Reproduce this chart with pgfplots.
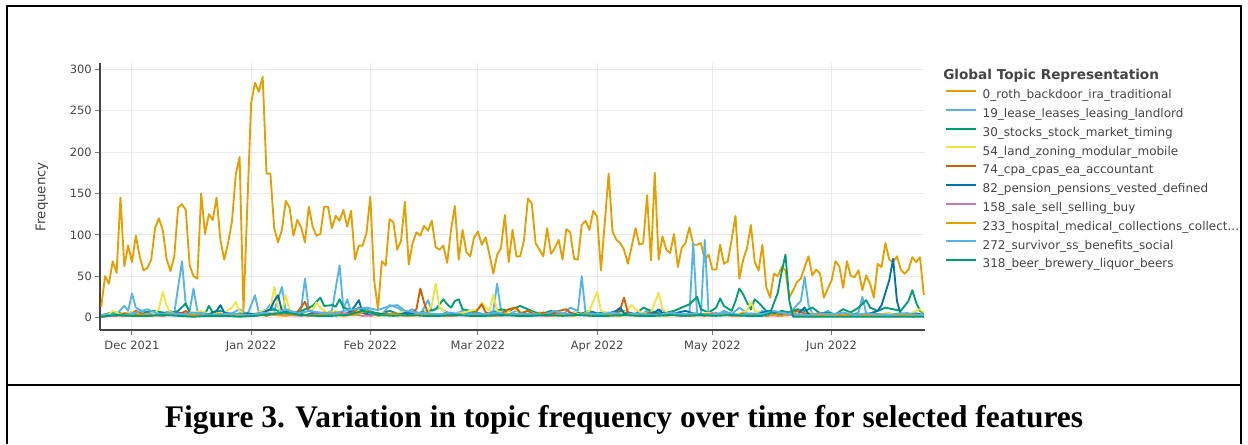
\documentclass[border=0pt]{standalone}
\usepackage{pgfplots}
\pgfplotsset{compat=1.18}
\usepackage{fontspec}
\setmainfont{DejaVu Sans}
\newfontfamily\capfont{Liberation Serif}
\definecolor{c0}{HTML}{E69F00}
\definecolor{c1}{HTML}{56B4E9}
\definecolor{c2}{HTML}{009E73}
\definecolor{c3}{HTML}{F0E442}
\definecolor{c4}{HTML}{D55E00}
\definecolor{c5}{HTML}{0072B2}
\definecolor{c6}{HTML}{CC79A7}
\definecolor{txt}{HTML}{444444}
\definecolor{gridc}{HTML}{EBEBEB}
\begin{document}
\begin{tikzpicture}[x=1pt,y=1pt]
\path[use as bounding box] (0,0) rectangle (936,333);
\begin{axis}[
  at={(75pt,85.5pt)}, anchor=south west,
  width=618.75pt, height=200.5pt, scale only axis,
  xmin=-8.32, xmax=206.3, ymin=-15.1, ymax=308.2,
  axis x line*=bottom, axis y line*=left,
  axis line style={color=txt, line width=1.1pt},
  xtick={0,31,62,90,121,151,182},
  xticklabels={Dec 2021,Jan 2022,Feb 2022,Mar 2022,Apr 2022,May 2022,Jun 2022},
  ytick={0,50,100,150,200,250,300},
  tick align=outside, major tick length=3.75pt,
  tick style={color=txt!70, line width=0.75pt},
  grid=major, major grid style={color=gridc, line width=0.75pt},
  /pgf/number format/assume math mode=true,
  ticklabel style={font=\fontsize{8.6}{10}\selectfont, text=txt},
  xticklabel style={inner sep=0pt, yshift=-4pt},
  yticklabel style={inner sep=0pt, xshift=-2.2pt},
  ylabel={Frequency},
  every axis y label/.style={at={(rel axis cs:-0.0703,0.499)}, rotate=90, anchor=center, font=\fontsize{10}{12}\selectfont, text=txt},
  clip=true,
  every axis plot/.append style={line width=1.4pt, line join=round},
  legend cell align=left,
  legend image code/.code={\draw[#1,line width=1.5pt] (0pt,3.3pt) -- (22.5pt,3.3pt);},
  legend style={at={(rel axis cs:1.0242,0.900)}, anchor=north west, draw=none, fill=none,
    inner sep=0pt, outer sep=0pt, row sep=5.1pt, column sep=4.3pt,
    font=\fontsize{9.0}{11}\selectfont, text=txt,
    nodes={inner sep=0pt, outer sep=0pt, text height=7pt, text depth=2pt}},
]
% 0_roth_backdoor_ira_traditional
\addplot[c0] coordinates {
(-8,13)(-7,50)(-6,41)(-5,68)(-4,54)(-3,145)(-2,62)(-1,87)(0,67)(1,99)(2,74)(3,57)(4,60)(5,70)(6,108)(7,120)(8,106)(9,71)(10,56)(11,74)(12,133)(13,137)(14,130)(15,63)(16,50)(17,47)(18,150)(19,101)(20,125)(21,118)(22,145)(23,94)(24,70)(25,90)(26,116)(27,173)(28,194)(29,8)(30,134)(31,259)(32,284)(33,273)(34,291)(35,174)(36,174)(37,108)(38,91)(39,106)(40,141)(41,133)(42,99)(43,118)(44,109)(45,91)(46,134)(47,110)(48,99)(49,101)(50,134)(51,134)(52,108)(53,123)(54,117)(55,130)(56,110)(57,129)(58,70)(59,87)(60,87)(61,102)(62,146)(63,45)(64,10)(65,68)(66,63)(67,119)(68,115)(69,82)(70,93)(71,140)(72,64)(73,90)(74,103)(75,99)(76,111)(77,105)(78,117)(79,85)(80,82)(81,87)(82,66)(83,106)(84,135)(85,70)(86,106)(87,79)(88,74)(89,97)(90,104)(91,88)(92,97)(93,76)(94,53)(95,76)(96,84)(97,124)(98,67)(99,106)(100,74)(101,74)(102,94)(103,144)(104,138)(105,90)(106,82)(107,74)(108,108)(109,77)(110,84)(111,94)(112,70)(113,107)(114,103)(115,71)(116,70)(117,112)(118,117)(119,106)(120,129)(121,122)(122,57)(123,115)(124,174)(125,104)(126,94)(127,90)(128,82)(129,65)(130,86)(131,108)(132,88)(133,90)(134,148)(135,69)(136,175)(137,70)(138,98)(139,82)(140,78)(141,101)(142,61)(143,84)(144,90)(145,109)(146,88)(147,88)(148,90)(149,70)(150,76)(151,58)(152,58)(153,88)(154,65)(155,68)(156,94)(157,123)(158,47)(159,70)(160,84)(161,112)(162,67)(163,57)(164,88)(165,37)(166,24)(167,53)(168,50)(169,61)(170,57)(171,24)(172,33)(173,43)(174,47)(175,61)(176,74)(177,51)(178,58)(179,53)(180,24)(181,35)(182,45)(183,68)(184,62)(185,36)(186,68)(187,50)(188,49)(189,57)(190,33)(191,51)(192,41)(193,24)(194,65)(195,61)(196,90)(197,70)(198,67)(199,74)(200,58)(201,53)(202,58)(203,73)(204,67)(205,73)(206,27)
};
\addlegendentry{0\_roth\_backdoor\_ira\_traditional}
% 19_lease_leases_leasing_landlord
\addplot[c1] coordinates {
(-8,3)(-6,5)(-4,4)(-2,14)(-1,8)(0,29)(1,12)(2,9)(4,6)(6,3)(8,5)(10,8)(11,5)(13,68)(14,15)(15,8)(16,35)(17,8)(18,3)(20,4)(22,6)(24,3)(26,5)(28,10)(30,3)(32,27)(33,6)(35,10)(36,16)(37,8)(39,37)(40,8)(42,5)(44,10)(45,47)(46,10)(48,5)(50,4)(52,8)(54,63)(55,10)(56,22)(57,6)(59,12)(61,10)(63,6)(65,3)(67,15)(69,12)(71,6)(73,10)(75,3)(77,21)(78,8)(80,12)(82,6)(84,4)(86,8)(88,5)(90,6)(92,3)(94,8)(95,41)(96,8)(98,4)(100,8)(102,5)(104,3)(106,6)(108,4)(110,7)(112,3)(114,12)(116,8)(117,50)(118,5)(120,3)(122,4)(124,6)(126,3)(128,8)(130,5)(132,3)(134,8)(136,4)(138,10)(139,5)(141,3)(143,4)(145,3)(146,90)(147,5)(148,3)(149,94)(150,5)(152,3)(154,8)(156,4)(158,12)(160,5)(162,3)(164,8)(166,4)(168,6)(170,3)(172,10)(174,20)(175,49)(176,15)(177,5)(179,3)(181,8)(183,2)(185,4)(187,3)(189,6)(190,25)(191,5)(193,3)(195,4)(197,5)(199,3)(201,6)(203,4)(205,3)(206,2)
};
\addlegendentry{19\_lease\_leases\_leasing\_landlord}
% 30_stocks_stock_market_timing
\addplot[c2] coordinates {
(-8,2)(-6,5)(-4,6)(-2,4)(0,5)(2,3)(4,7)(6,8)(8,6)(10,5)(12,8)(14,17)(15,6)(17,5)(19,4)(20,14)(21,6)(23,8)(25,5)(27,4)(29,6)(31,3)(33,5)(35,8)(37,10)(39,6)(41,8)(43,5)(45,10)(47,14)(49,24)(50,14)(52,15)(53,13)(54,22)(55,12)(57,9)(59,10)(61,8)(63,6)(65,5)(67,8)(69,5)(71,7)(73,4)(75,6)(77,8)(79,10)(81,22)(82,16)(83,12)(84,20)(85,22)(86,10)(88,8)(90,5)(92,3)(94,6)(96,10)(98,8)(100,12)(101,14)(103,10)(105,6)(107,5)(109,8)(111,5)(113,4)(115,6)(117,5)(119,8)(121,5)(123,6)(125,4)(127,8)(129,6)(131,4)(133,12)(135,8)(137,5)(139,6)(141,8)(143,12)(145,16)(147,25)(148,10)(150,6)(152,12)(153,23)(154,14)(156,8)(157,20)(158,35)(159,28)(160,18)(161,10)(162,22)(163,18)(165,8)(167,5)(169,8)(171,6)(173,10)(175,8)(177,12)(179,5)(181,6)(183,4)(185,10)(187,6)(189,12)(191,21)(192,12)(194,8)(196,12)(198,10)(200,8)(202,20)(203,33)(204,18)(205,8)(206,5)
};
\addlegendentry{30\_stocks\_stock\_market\_timing}
% 54_land_zoning_modular_mobile
\addplot[c3] coordinates {
(-8,2)(-6,4)(-5,8)(-3,4)(-1,6)(1,8)(3,4)(5,3)(7,10)(8,31)(9,15)(10,6)(12,4)(14,6)(16,5)(18,8)(20,4)(22,5)(24,6)(26,12)(27,19)(28,8)(30,3)(32,5)(34,8)(36,10)(37,37)(38,12)(39,6)(40,27)(41,8)(43,4)(45,6)(47,10)(48,18)(49,12)(51,5)(53,8)(55,4)(57,6)(59,8)(61,4)(63,3)(65,6)(67,4)(69,5)(71,8)(73,6)(75,4)(77,8)(78,15)(79,41)(80,12)(82,5)(84,4)(86,6)(88,8)(90,10)(91,18)(92,12)(93,8)(94,28)(95,8)(97,5)(99,12)(101,6)(103,8)(105,4)(107,6)(109,3)(111,5)(113,4)(115,6)(117,3)(119,8)(121,31)(122,8)(124,5)(126,4)(128,6)(130,15)(131,10)(133,5)(135,6)(137,30)(138,10)(140,4)(142,6)(144,3)(146,5)(148,4)(150,6)(152,4)(154,5)(156,3)(158,5)(160,8)(161,19)(162,8)(164,5)(166,3)(168,4)(170,3)(172,5)(174,3)(176,6)(178,4)(180,3)(182,4)(184,3)(186,5)(188,4)(190,3)(192,4)(194,3)(196,5)(198,4)(200,6)(202,4)(204,8)(205,10)(206,6)
};
\addlegendentry{54\_land\_zoning\_modular\_mobile}
% 74_cpa_cpas_ea_accountant
\addplot[c4] coordinates {
(-8,1)(-6,3)(-4,2)(-2,5)(0,4)(1,8)(2,6)(4,2)(6,3)(8,2)(10,4)(12,3)(14,8)(15,4)(17,2)(19,3)(21,2)(23,4)(25,3)(27,2)(29,5)(31,3)(33,4)(35,2)(37,5)(39,3)(41,4)(43,6)(45,19)(46,8)(48,5)(50,6)(52,3)(54,6)(56,4)(58,8)(59,12)(60,6)(62,2)(64,4)(66,3)(68,5)(70,3)(72,2)(74,10)(75,35)(76,18)(77,5)(79,3)(81,4)(83,2)(85,4)(87,3)(89,4)(91,16)(92,6)(94,3)(96,4)(98,10)(100,12)(101,5)(103,8)(105,3)(107,6)(109,4)(111,8)(113,10)(114,6)(116,3)(118,5)(120,3)(122,2)(124,4)(126,3)(127,10)(128,24)(129,6)(131,3)(133,4)(135,6)(137,3)(139,5)(141,3)(143,2)(145,4)(147,3)(149,2)(151,5)(153,3)(155,4)(157,2)(159,5)(161,3)(163,4)(165,2)(167,3)(169,4)(171,3)(173,8)(175,5)(177,3)(179,6)(181,2)(183,3)(185,2)(187,4)(189,2)(191,3)(193,5)(195,3)(197,2)(199,4)(201,2)(203,3)(205,2)(206,3)
};
\addlegendentry{74\_cpa\_cpas\_ea\_accountant}
% 82_pension_pensions_vested_defined
\addplot[c5] coordinates {
(-8,1)(-6,2)(-4,3)(-2,2)(0,4)(2,3)(4,2)(6,3)(8,5)(10,3)(12,6)(14,4)(16,3)(18,5)(20,4)(22,8)(23,15)(24,6)(26,4)(28,3)(30,5)(32,4)(34,6)(36,10)(37,20)(38,27)(39,8)(41,4)(43,6)(45,3)(47,5)(49,3)(51,4)(53,6)(55,3)(57,8)(58,14)(59,21)(60,6)(62,3)(64,4)(66,5)(68,3)(70,4)(72,6)(74,3)(76,5)(78,4)(80,3)(82,6)(84,4)(86,3)(88,5)(90,4)(92,3)(94,5)(96,3)(98,4)(100,3)(102,5)(104,3)(106,4)(108,2)(110,4)(112,3)(114,5)(116,3)(118,4)(120,6)(122,3)(124,5)(126,8)(127,12)(128,5)(130,3)(132,4)(134,3)(136,6)(137,10)(138,5)(140,3)(142,6)(144,8)(146,5)(148,4)(150,3)(152,5)(154,3)(156,4)(158,2)(160,4)(162,3)(164,6)(166,8)(167,4)(169,3)(171,5)(173,3)(175,12)(176,4)(178,3)(180,5)(182,3)(184,4)(186,2)(188,4)(190,3)(192,5)(194,8)(195,15)(196,30)(197,45)(198,71)(199,20)(200,4)(202,3)(204,5)(206,3)
};
\addlegendentry{82\_pension\_pensions\_vested\_defined}
% 158_sale_sell_selling_buy
\addplot[c6] coordinates {
(-8,1)(-4,3)(0,2)(4,4)(8,2)(12,5)(16,3)(20,2)(24,4)(28,3)(32,2)(36,5)(40,3)(44,2)(48,4)(52,3)(56,5)(60,2)(64,3)(68,4)(72,2)(76,5)(80,3)(84,2)(88,4)(92,3)(96,2)(100,4)(104,3)(108,2)(112,5)(116,3)(120,2)(124,4)(128,3)(132,2)(136,3)(140,4)(144,2)(148,3)(152,5)(156,2)(160,3)(164,4)(168,2)(172,3)(176,2)(180,4)(184,3)(188,2)(192,4)(196,2)(200,3)(204,2)(206,2)
};
\addlegendentry{158\_sale\_sell\_selling\_buy}
% 233_hospital_medical_collections_collect...
\addplot[c0] coordinates {
(-8,1)(-5,3)(-2,2)(1,5)(4,2)(7,3)(10,6)(13,2)(16,3)(19,2)(22,4)(25,2)(28,3)(31,2)(34,5)(37,3)(40,2)(43,4)(46,2)(49,3)(52,6)(55,2)(58,3)(61,8)(64,2)(67,4)(70,3)(73,2)(76,5)(79,3)(82,2)(85,4)(88,2)(91,3)(94,2)(97,5)(100,3)(103,2)(106,4)(109,2)(112,3)(115,2)(118,5)(121,2)(124,3)(127,2)(130,4)(133,2)(136,3)(139,2)(142,4)(145,2)(148,3)(151,2)(154,5)(157,2)(160,3)(163,2)(166,4)(169,2)(172,6)(175,2)(178,3)(181,2)(184,4)(187,2)(190,3)(193,2)(196,4)(199,2)(202,3)(205,2)(206,2)
};
\addlegendentry{233\_hospital\_medical\_collections\_collect...}
% 272_survivor_ss_benefits_social
\addplot[c1] coordinates {
(-8,2)(-5,4)(-2,3)(1,6)(4,10)(7,4)(10,5)(13,3)(16,6)(19,4)(22,3)(25,5)(28,4)(31,3)(34,6)(37,4)(40,10)(43,5)(46,8)(49,6)(52,4)(55,8)(58,10)(61,12)(64,9)(67,14)(69,15)(71,8)(74,6)(77,5)(80,4)(83,6)(86,3)(89,5)(92,4)(95,6)(98,3)(101,5)(104,4)(107,3)(110,8)(113,4)(116,3)(119,5)(122,4)(125,6)(128,3)(131,5)(134,4)(137,3)(140,6)(143,4)(146,5)(149,3)(152,4)(155,6)(158,3)(161,5)(164,4)(167,8)(170,5)(173,4)(176,3)(179,5)(182,4)(185,6)(188,3)(191,5)(194,4)(197,3)(200,5)(203,4)(206,3)
};
\addlegendentry{272\_survivor\_ss\_benefits\_social}
% 318_beer_brewery_liquor_beers
\addplot[c2] coordinates {
(-8,1)(-4,3)(0,2)(4,2)(8,3)(12,2)(16,1)(20,2)(24,2)(28,1)(32,2)(36,4)(40,6)(44,3)(48,2)(52,2)(56,3)(60,8)(62,6)(64,3)(68,2)(72,3)(76,2)(80,2)(84,3)(88,2)(92,2)(96,3)(100,2)(104,2)(108,3)(112,2)(116,3)(120,2)(124,2)(128,3)(132,2)(136,2)(140,3)(144,2)(148,3)(152,2)(156,3)(160,2)(164,2)(166,5)(168,30)(169,55)(170,76)(171,20)(172,1)(176,1)(180,1)(184,1)(188,1)(192,1)(196,1)(200,1)(204,1)(206,1)
};
\addlegendentry{318\_beer\_brewery\_liquor\_beers}
\end{axis}
\node[anchor=base west, inner sep=0pt, font=\bfseries\fontsize{10.2}{12}\selectfont, text=txt] at (707.25,273.4) {Global Topic Representation};
% frame
\draw[line width=1.5pt] (5.6,0) -- (5.6,328.5) -- (930.75,328.5) -- (930.75,0);
\draw[line width=1.5pt] (5.6,44.25) -- (930.75,44.25);
\node[anchor=base, inner sep=0pt, font=\capfont\bfseries\fontsize{23.6}{28}\selectfont] at (468,12.2) {Figure 3. Variation in topic frequency over time for selected features};
\end{tikzpicture}
\end{document}
